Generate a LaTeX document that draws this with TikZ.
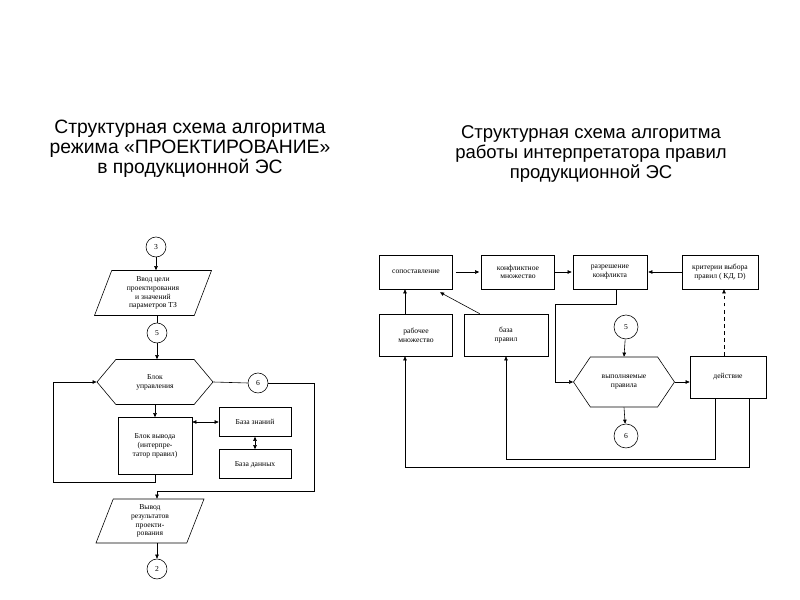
\documentclass[tikz,border=0pt]{standalone}
\usepackage{fontspec}
\setmainfont{Liberation Serif}
\newfontfamily\titlefont{Liberation Sans}
\usetikzlibrary{shapes.geometric,shapes.symbols,arrows.meta}
\newcommand{\pxl}{0.03cm}
\begin{document}
\begin{tikzpicture}[x=0.03cm, y=-0.03cm,
        every node/.style={font=\fontsize{6.5}{7.5}\selectfont, align=center, inner sep=1pt},
        title/.style={font=\titlefont\fontsize{16.5}{17}\selectfont, align=center},
        blk/.style={draw, rectangle},
        conn/.style={draw, circle, minimum size=20*\pxl},
        iobox/.style={draw, trapezium, trapezium left angle=64, trapezium right angle=116, trapezium stretches body},
        hexa/.style={draw, signal, signal to=west and east},
        every path/.style={line width=0.5pt},
        >={Triangle[length=3.5pt, width=3pt]}]
    \useasboundingbox (0,0) rectangle (800,600);
    % titles
    \node[title] (t1) at (190,149) {Структурная схема алгоритма\\режима «ПРОЕКТИРОВАНИЕ»\\в продукционной ЭС};
    \node[title, font=\titlefont\fontsize{15.8}{17}\selectfont] (t2) at (591,154) {Структурная схема алгоритма\\работы интерпретатора правил\\продукционной ЭС};

    % left: mode "design"
    \node[conn] (c3) at (156,247) {3};
    \node[iobox, minimum width=117*\pxl, minimum height=45*\pxl] (vvod) at (153,293) {Ввод цели\\проектирования\\и значений\\параметров ТЗ};
    \node[conn] (c5) at (157,333) {5};
    \node[hexa, signal pointer angle=100, minimum width=116*\pxl, minimum height=45*\pxl] (upr) at (155,382) {Блок\\управления};
    \node[conn] (c6) at (258,383) {6};
    \node[blk, minimum width=74*\pxl, minimum height=57*\pxl] (vyvod) at (155,446) {Блок вывода\\(интерпре-\\татор правил)};
    \node[blk, minimum width=72*\pxl, minimum height=29*\pxl] (bz) at (255,422) {\raisebox{-5pt}{База знаний}};
    \node[blk, minimum width=72*\pxl, minimum height=29*\pxl] (bd) at (255,464) {\raisebox{-5pt}{База данных}};
    \node[iobox, minimum width=108*\pxl, minimum height=44*\pxl] (res) at (150,521) {Вывод\\результатов\\проекти-\\рования};
    \node[conn] (c2) at (157,569) {2};
    \coordinate (lb) at (53,482);
    \coordinate (rb) at (314,491);

    \draw[->] (c3.south) -- (c3.south |- vvod.north);
    \draw (c5.north |- vvod.south) -- (c5.north);
    \draw[->] (c5.south) -- (c5.south |- upr.north);
    \draw[->] (upr.south) -- (vyvod.north);
    \draw (upr.east) -- (c6.west);
    \draw[<->] (bz.west) -- (bz.west -| vyvod.east);
    \draw[<->] (bz.south) -- (bd.north);
    \draw[->] (vyvod.south) |- (lb) |- (upr.west);
    \draw[->] (c6.east) -| (rb) -| (c2.north |- res.north);
    \draw[->] (c2.north |- res.south) -- (c2.north);

    % right: rule interpreter
    \node[blk, minimum width=73*\pxl, minimum height=34*\pxl] (sop) at (416,272) {сопоставление};
    \node[blk, minimum width=73*\pxl, minimum height=34*\pxl] (konf) at (518,272) {конфликтное\\множество};
    \node[blk, minimum width=74*\pxl, minimum height=34*\pxl] (razr) at (610,272) {разрешение\\конфликта};
    \node[blk, minimum width=76*\pxl, minimum height=34*\pxl] (krit) at (720,272) {критерии выбора\\правил ( КД, D)};
    \node[blk, minimum width=73*\pxl, minimum height=42*\pxl] (rab) at (416,335) {рабочее\\множество};
    \node[blk, minimum width=84*\pxl, minimum height=42*\pxl] (baza) at (506,335) {база\\правил};
    \node[conn, minimum size=24*\pxl] (c5r) at (626,327) {5};
    \node[hexa, signal pointer angle=112, minimum width=101*\pxl, minimum height=50*\pxl] (vyp) at (624,382) {выполняемые\\правила};
    \node[conn, minimum size=24*\pxl] (c6r) at (626,436) {6};
    \node[blk, minimum width=76*\pxl, minimum height=42*\pxl] (deyst) at (728,377) {действие};
    \coordinate (rk) at (555,304);
    \coordinate (d1) at (715,459);
    \coordinate (d2) at (749,467);

    \draw[->, shorten <=3*\pxl, shorten >=2*\pxl] (sop) -- (konf);
    \draw[->, shorten >=1*\pxl] (konf) -- (razr);
    \draw[->, shorten >=1*\pxl] (krit) -- (razr);
    \draw[->] ([xshift=-11*\pxl]rab.north) -- ([xshift=-11*\pxl]sop.south);
    \draw[->] ([xshift=16*\pxl]baza.north west) -- ([xshift=24*\pxl, yshift=-3*\pxl]sop.south);
    \draw[->] ([xshift=6*\pxl]razr.south) |- (rk) |- (vyp.west);
    \draw[->] (c5r) -- (vyp.north);
    \draw[->] (vyp.south) -- (c6r);
    \draw[->] (vyp.east) -- (vyp.east -| deyst.west);
    \draw[->, dashed] ([xshift=-4*\pxl]deyst.north) -- ([xshift=-4*\pxl]deyst.north |- krit.south);
    \draw[->] (d1 |- deyst.south) -- (d1) -| (baza.south);
    \draw[->] (d2 |- deyst.south) -- (d2) -| ([xshift=-11*\pxl]rab.south);
\end{tikzpicture}
\end{document}
